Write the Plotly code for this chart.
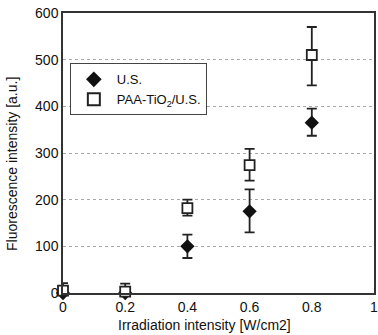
import plotly.graph_objects as go

x_vals = [0, 0.2, 0.4, 0.6, 0.8]
us_vals = [0, 0, 100, 175, 365]
us_err_plus = [0, 0, 25, 47, 30]
us_err_minus = [0, 0, 25, 45, 28]
paa_vals = [5, 3, 182, 274, 510]
paa_err_plus = [16, 17, 18, 35, 60]
paa_err_minus = [5, 3, 16, 33, 65]
x_ticks = [0, 0.2, 0.4, 0.6, 0.8, 1]
x_tick_labels = ["0", "0.2", "0.4", "0.6", "0.8", "1"]
y_ticks = [0, 100, 200, 300, 400, 500, 600]
x_title = "Irradiation intensity [W/cm2]"
y_title = "Fluorescence intensity [a.u.]"

font = "Liberation Sans, Arial, sans-serif"

fig = go.Figure()
fig.add_trace(go.Scatter(
    x=x_vals, y=us_vals, mode="markers", name="U.S.",
    marker=dict(symbol="diamond", size=11, color="#111"),
    error_y=dict(type="data", symmetric=False, array=us_err_plus, arrayminus=us_err_minus,
                 color="#222", thickness=1.8, width=5),
    cliponaxis=False,
))
fig.add_trace(go.Scatter(
    x=x_vals, y=paa_vals, mode="markers", name="PAA-TiO<sub>2</sub>/U.S.",
    marker=dict(symbol="square", size=10, color="white", line=dict(color="#222", width=1.8)),
    error_y=dict(type="data", symmetric=False, array=paa_err_plus, arrayminus=paa_err_minus,
                 color="#222", thickness=1.8, width=5),
    cliponaxis=False,
))

fig.add_annotation(text=x_title, xref="paper", yref="paper", x=(204 - 63) / 311, y=-(325 - 293) / 280,
                   xanchor="center", yanchor="middle", showarrow=False, font=dict(size=14))
fig.add_annotation(text=y_title, xref="paper", yref="paper", x=-(63 - 12) / 311, y=(293 - 164) / 280,
                   xanchor="center", yanchor="middle", showarrow=False, textangle=-90, font=dict(size=14))

fig.update_layout(
    width=378, height=335,
    margin=dict(l=63, r=4, t=13, b=42, autoexpand=False),
    paper_bgcolor="white", plot_bgcolor="white",
    font=dict(family=font, size=13, color="#111"),
    showlegend=True,
    legend=dict(x=0.022, y=0.82, xanchor="left", yanchor="top",
                bordercolor="#444", borderwidth=1, bgcolor="white",
                font=dict(size=13), itemsizing="constant",
                tracegroupgap=0, itemwidth=36),
    xaxis=dict(range=[0, 1], tickvals=x_ticks, ticktext=x_tick_labels,
               showgrid=False, zeroline=False, showline=True, linecolor="#333",
               linewidth=1.5, mirror=True, ticks="", tickfont=dict(size=14),
               ticklabeloverflow="allow", automargin=False),
    yaxis=dict(range=[0, 600], tickvals=y_ticks,
               showgrid=True, gridcolor="#aaa", griddash="dot", gridwidth=1,
               zeroline=False, showline=True, linecolor="#333", linewidth=1.5,
               mirror=True, ticks="", tickfont=dict(size=14), ticklabelstandoff=0,
               automargin=False),
)

fig.write_html("out.html", config={"displayModeBar": False},
               post_script="document.body.style.margin='0';")
